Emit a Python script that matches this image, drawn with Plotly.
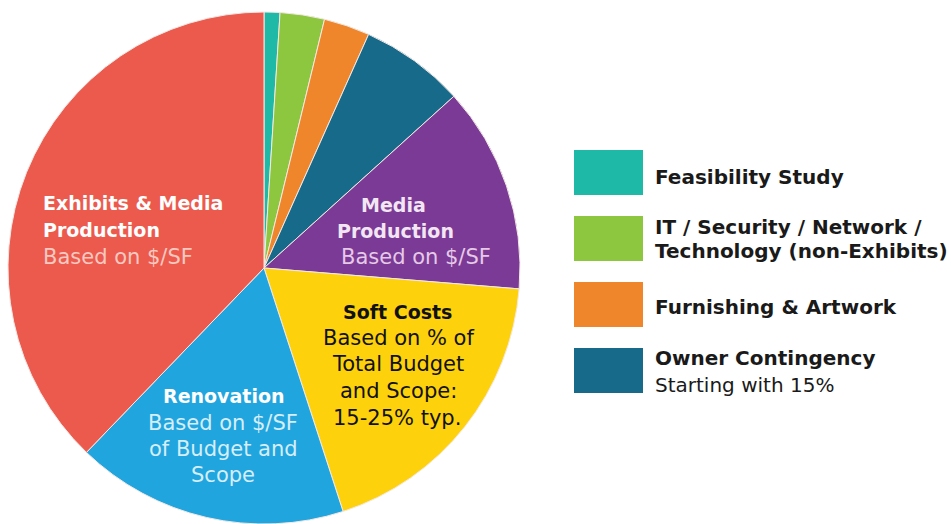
import plotly.graph_objects as go

W, H = 951, 524

# ---- data ----
categories = [
    "Feasibility Study",
    "IT / Security / Network / Technology (non-Exhibits)",
    "Furnishing & Artwork",
    "Owner Contingency",
    "Media Production",
    "Soft Costs",
    "Renovation",
    "Exhibits & Media Production",
]
shares = [1.0, 2.8, 2.9, 6.6, 13.0, 18.7, 17.2, 37.8]
colors = ["#1fb9a8", "#8dc63f", "#ef862b", "#176a89", "#7a3a96",
          "#fdd20c", "#21a5de", "#ec5a4d"]

legend_lines = [
    [("Feasibility Study", True)],
    [("IT / Security / Network /", True), ("Technology (non-Exhibits)", True)],
    [("Furnishing & Artwork", True)],
    [("Owner Contingency", True), ("Starting with 15%", False)],
]

FONT = "DejaVu Sans"

def px(x):
    return x / W

def py(y):
    return 1 - y / H

fig = go.Figure()
fig.add_trace(go.Pie(
    labels=categories,
    values=shares,
    sort=False,
    direction="clockwise",
    rotation=0,
    textinfo="none",
    hoverinfo="label+percent",
    marker=dict(colors=colors, line=dict(color="#f4e8e4", width=1)),
    domain=dict(x=[px(8), px(520)], y=[0, py(12)]),
    showlegend=False,
))

annotations = []

def label(x, y, text, size, color, bold=False, anchor="center"):
    annotations.append(dict(
        x=px(x), y=py(y), xref="paper", yref="paper",
        text=f"<b>{text}</b>" if bold else text,
        showarrow=False, xanchor=anchor, yanchor="middle",
        align=anchor if anchor != "center" else "center",
        font=dict(family=FONT, size=size, color=color),
    ))

BS, RS = 19, 21  # bold / regular sizes for slice labels

# slice labels
label(41, 203, "Exhibits & Media", BS, "#ffffff", bold=True, anchor="left")
label(41, 230, "Production", BS, "#ffffff", bold=True, anchor="left")
label(41, 257, "Based on $/SF", RS, "#f8c9c0", anchor="left")

label(393, 205, "Media", BS, "#f3e6f3", bold=True)
label(395, 231, "Production", BS, "#f3e6f3", bold=True)
label(416, 257, "Based on $/SF", RS, "#e6c9e6")

label(397, 312, "Soft Costs", BS, "#111111", bold=True)
label(398, 338, "Based on % of", RS, "#111111")
label(398, 364, "Total Budget", RS, "#111111")
label(398, 391, "and Scope:", RS, "#111111")
label(397, 418, "15-25% typ.", RS, "#111111")

label(223, 396, "Renovation", BS, "#ffffff", bold=True)
label(223, 423, "Based on $/SF", RS, "#d6eef9")
label(223, 449, "of Budget and", RS, "#d6eef9")
label(223, 475, "Scope", RS, "#d6eef9")

# legend
shapes = []
box_tops = [150, 216, 282, 348]
line_y = [[177], [227, 251], [307], [358, 385]]
for col, top, lines, ys in zip(colors[:4], box_tops, legend_lines, line_y):
    shapes.append(dict(type="rect", xref="paper", yref="paper",
                       x0=px(574), x1=px(643), y0=py(top), y1=py(top + 45),
                       fillcolor=col, line=dict(width=0)))
    for (txt, bold), y in zip(lines, ys):
        label(653, y, txt, 20, "#1a1a1a", bold=bold, anchor="left")

fig.update_layout(
    width=W, height=H,
    margin=dict(l=0, r=0, t=0, b=0),
    paper_bgcolor="#ffffff",
    plot_bgcolor="#ffffff",
    annotations=annotations,
    shapes=shapes,
    showlegend=False,
)

fig.write_html("out.html")
